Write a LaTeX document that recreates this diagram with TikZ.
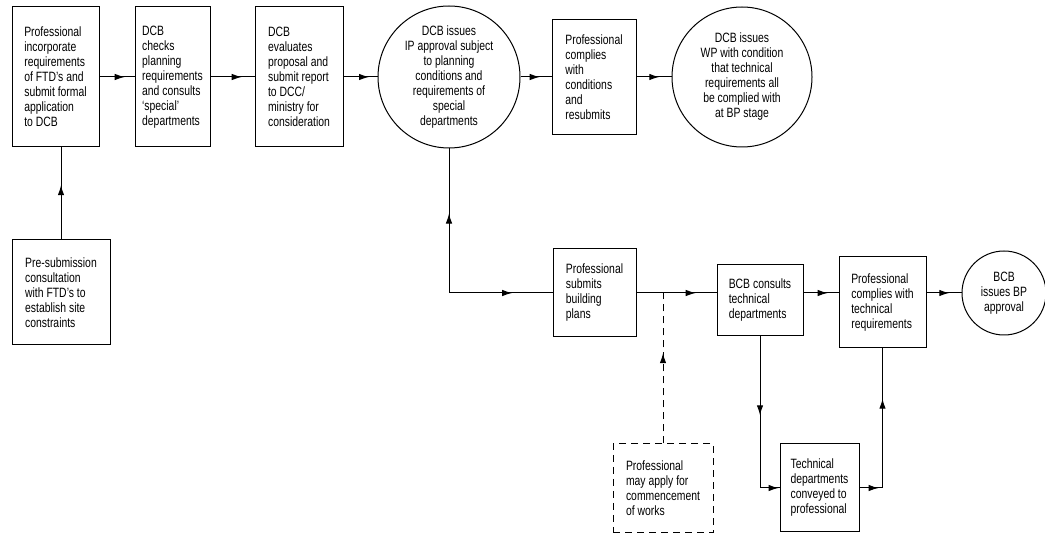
\documentclass[tikz,border=0pt]{standalone}
\usepackage{fontspec}
\setmainfont[FakeStretch=0.77]{Liberation Sans}
\usetikzlibrary{arrows.meta,decorations.markings,calc}
\tikzset{
  bx/.style 2 args={draw, line width=1pt, rectangle, align=left, inner sep=0pt,
    minimum width=#1pt, minimum height=#2pt},
  cr/.style={draw, line width=1pt, circle, align=center, inner sep=0pt, minimum size=#1pt},
  ln/.style={line width=1pt},
  ma/.style={postaction={decorate}, decoration={markings,
    mark=at position #1 with {\arrow[solid]{Latex[length=10pt,width=6.5pt]}}}},
  dsh/.style={dash pattern=on 7pt off 5pt}
}
\begin{document}
\begin{tikzpicture}[x=1pt,y=-1pt,font=\fontsize{13.5}{15}\selectfont]
\useasboundingbox (0,0) rectangle (1045,534);
% top row
\node[bx={87}{140}] (A) at (55.5,77) {Professional\\incorporate\\requirements\\of FTD’s and\\submit formal\\application\\to DCB};
\node[bx={75}{140}] (B) at (172.5,77) {DCB\\checks\\planning\\requirements\\and consults\\‘special’\\departments};
\node[bx={88}{140}] (C) at (299,77) {DCB\\evaluates\\proposal and\\submit report\\to DCC/\\ministry for\\consideration};
\node[cr=142] (C1) at (449,77) {DCB issues\\IP approval subject\\to planning\\conditions and\\requirements of\\special\\departments};
\node[bx={84}{115}] (D) at (594,77) {Professional\\complies\\with\\conditions\\and\\resubmits};
\node[cr=140] (C2) at (742,77) {DCB issues\\WP with condition\\that technical\\requirements all\\be complied with\\at BP stage};
% pre-submission
\node[bx={98}{105}] (P) at (61,292.5) {Pre-submission\\consultation\\with FTD’s to\\establish site\\constraints};
% bottom row
\node[bx={83}{88}] (E) at (594.5,293) {Professional\\submits\\building\\plans};
\node[bx={86}{71}] (F) at (760,300.5) {BCB consults\\technical\\departments};
\node[bx={87}{91}] (G) at (882.5,302.5) {Professional\\complies with\\technical\\requirements};
\node[cr=84] (C3) at (1004,293) {BCB\\issues BP\\approval};
\node[bx={100}{89}, dsh] (W) at (663,488.5) {Professional\\may apply for\\commencement\\of works};
\node[bx={79}{88}] (H) at (819.5,488) {Technical\\departments\\conveyed to\\professional};
% coordinates
\coordinate (k) at (C1.south |- E.west);
\coordinate (j) at (W.north |- E.east);
\coordinate (c1) at (F.south |- H.west);
\coordinate (c2) at (G.south |- H.east);
% connectors
\draw[ln, ma=0.72] (A.east) -- (B.west);
\draw[ln, ma=0.71] (B.east) -- (C.west);
\draw[ln, ma=0.75] (C.east) -- (C1.west);
\draw[ln, ma=0.62] (C1.east) -- (D.west);
\draw[ln, ma=0.65] (D.east) -- (C2.west);
\draw[ln, ma=0.59] (P.north) -- (P.north |- A.south);
\draw[ln, ma=0.55] (k) -- (C1.south);
\draw[ln, ma=0.61] (k) -- (E.west);
\draw[ln, ma=0.74] (E.east) -- (E.east -| F.west);
\draw[ln, dsh, ma=0.6] (W.north) -- (j);
\draw[ln, ma=0.69] (F.east |- E.east) -- (G.west |- E.east);
\draw[ln, ma=0.65] (G.east |- C3.west) -- (C3.west);
\draw[ln, ma=0.52] (F.south) -- (c1);
\draw[ln, ma=0.95] (c1) -- (H.west);
\draw[ln, ma=0.83] (H.east) -- (c2);
\draw[ln, ma=0.64] (c2) -- (G.south);
\end{tikzpicture}
\end{document}
